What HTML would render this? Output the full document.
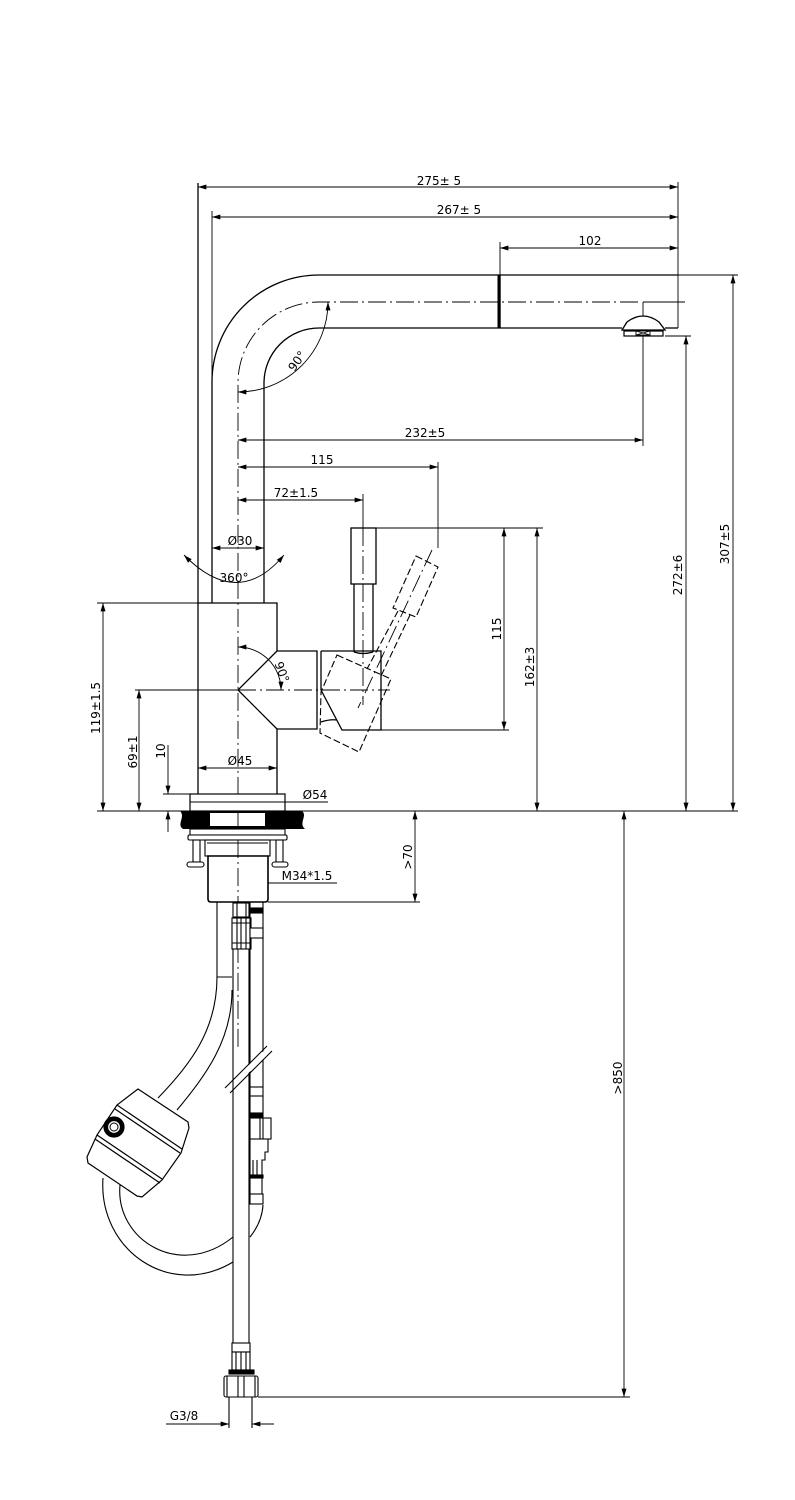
<!DOCTYPE html>
<html><head><meta charset="utf-8"><style>
html,body{margin:0;padding:0;background:#fff;}
svg{display:block;}
text{font-family:"DejaVu Sans","Liberation Sans",sans-serif;font-size:12px;fill:#000;stroke:none;}
</style></head><body>
<svg width="795" height="1500" viewBox="0 0 795 1500" xmlns="http://www.w3.org/2000/svg">
<defs>
<marker id="a" viewBox="0 0 10 6" refX="10" refY="3" markerWidth="9" markerHeight="5" markerUnits="userSpaceOnUse" orient="auto-start-reverse"><path d="M0,0 L10,3 L0,6 z" fill="#000"/></marker>
</defs>
<rect width="795" height="1500" fill="#fff"/>

<!-- ===== Dimension lines ===== -->
<g fill="none" stroke="#000" stroke-width="0.9">
<line x1="198" y1="187" x2="678" y2="187" marker-start="url(#a)" marker-end="url(#a)"/>
<line x1="212" y1="217" x2="678" y2="217" marker-start="url(#a)" marker-end="url(#a)"/>
<line x1="500" y1="248" x2="678" y2="248" marker-start="url(#a)" marker-end="url(#a)"/>
<line x1="238" y1="440" x2="643" y2="440" marker-start="url(#a)" marker-end="url(#a)"/>
<line x1="238" y1="467" x2="438" y2="467" marker-start="url(#a)" marker-end="url(#a)"/>
<line x1="238" y1="500" x2="363" y2="500" marker-start="url(#a)" marker-end="url(#a)"/>
<line x1="212" y1="548" x2="264" y2="548" marker-start="url(#a)" marker-end="url(#a)"/>
<line x1="198" y1="768" x2="277" y2="768" marker-start="url(#a)" marker-end="url(#a)"/>
<line x1="190" y1="802" x2="285" y2="802" marker-start="url(#a)" marker-end="url(#a)"/>
<line x1="285" y1="802" x2="328" y2="802"/>
<line x1="208" y1="883" x2="268" y2="883" marker-start="url(#a)" marker-end="url(#a)"/>
<line x1="268" y1="883" x2="337" y2="883"/>
<line x1="166" y1="1424" x2="229" y2="1424" marker-end="url(#a)"/>
<line x1="274" y1="1424" x2="252" y2="1424" marker-end="url(#a)"/>

<line x1="103" y1="603" x2="103" y2="811" marker-start="url(#a)" marker-end="url(#a)"/>
<line x1="139" y1="690" x2="139" y2="811" marker-start="url(#a)" marker-end="url(#a)"/>
<line x1="168" y1="745" x2="168" y2="794" marker-end="url(#a)"/>
<line x1="168" y1="832" x2="168" y2="811" marker-end="url(#a)"/>
<line x1="504" y1="528" x2="504" y2="730" marker-start="url(#a)" marker-end="url(#a)"/>
<line x1="537" y1="528" x2="537" y2="811" marker-start="url(#a)" marker-end="url(#a)"/>
<line x1="415" y1="811" x2="415" y2="902" marker-start="url(#a)" marker-end="url(#a)"/>
<line x1="624" y1="811" x2="624" y2="1397" marker-start="url(#a)" marker-end="url(#a)"/>
<line x1="686" y1="336" x2="686" y2="811" marker-start="url(#a)" marker-end="url(#a)"/>
<line x1="733" y1="275" x2="733" y2="811" marker-start="url(#a)" marker-end="url(#a)"/>

<!-- extension lines -->
<line x1="678" y1="182" x2="678" y2="328"/>
<line x1="212" y1="211" x2="212" y2="383"/>
<line x1="500" y1="242" x2="500" y2="275"/>
<line x1="643" y1="302" x2="643" y2="446"/>
<line x1="438" y1="462" x2="438" y2="548"/>
<line x1="363" y1="494" x2="363" y2="528"/>
<line x1="678" y1="275" x2="738" y2="275"/>
<line x1="665" y1="336" x2="691" y2="336"/>
<line x1="376" y1="528" x2="543" y2="528"/>
<line x1="342" y1="730" x2="509" y2="730"/>
<line x1="97" y1="603" x2="198" y2="603"/>
<line x1="135" y1="690" x2="238" y2="690"/>
<line x1="163" y1="794" x2="190" y2="794"/>
<line x1="97" y1="811" x2="738" y2="811"/>
<line x1="268" y1="902" x2="420" y2="902"/>
<line x1="258" y1="1397" x2="630" y2="1397"/>

<!-- angle arcs -->
<path d="M328 302 A90 90 0 0 1 238 392" marker-start="url(#a)" marker-end="url(#a)"/>
<path d="M184 555 Q238 610 284 555" marker-start="url(#a)" marker-end="url(#a)"/>
<path d="M238 647 A43 43 0 0 1 281 690" marker-start="url(#a)" marker-end="url(#a)"/>
</g>

<!-- ===== Centerlines ===== -->
<g fill="none" stroke="#000" stroke-width="0.9" stroke-dasharray="18 4 2 4">
<path d="M638 302 L319 302 A81 81 0 0 0 238 383 L238 1047"/>
<line x1="238" y1="690" x2="390" y2="690"/>
<line x1="363" y1="528" x2="363" y2="705"/>
<line x1="432" y1="550" x2="358" y2="708"/>
</g>
<line x1="643" y1="302" x2="685" y2="302" stroke="#000" stroke-width="0.9"/>

<!-- ===== Spout ===== -->
<g fill="none" stroke="#000" stroke-width="1.3">
<path d="M678 275 L319 275 A107 107 0 0 0 212 382 L212 603"/>
<path d="M622 328 L319 328 A55 55 0 0 0 264 383 L264 603"/>
<path d="M678 328 L665 328"/>
<path d="M622 330 L627 322 Q643 310 659 322 L665 330 L622 330 Z" fill="#fff"/>
</g>
<rect x="624" y="331" width="39" height="5" fill="#fff" stroke="#000" stroke-width="1.2"/>
<rect x="636" y="331" width="14" height="4" fill="#fff" stroke="#000" stroke-width="0.9"/>
<path d="M636 331 L650 335 M650 331 L636 335" stroke="#000" stroke-width="0.8"/>
<rect x="497.5" y="275" width="3.2" height="53" fill="#000"/>

<!-- ===== Body ===== -->
<g fill="none" stroke="#000" stroke-width="1.3">
<path d="M198 183 L198 794"/>
<path d="M198 603 L277 603 L277 651 L317 651 L317 729 L277 729 L277 794"/>
<path d="M277 651 L238 690 L277 729"/>
<line x1="321" y1="651" x2="321" y2="690"/>
<path d="M321 651 L381 651 L381 730 L342 730 L321 690"/>
<path d="M321 722 Q330 719 337 720"/>
<rect x="351" y="528" width="25" height="56"/>
<path d="M354 584 L354 652 M373 584 L373 652"/>
<path d="M354 652 Q363 655 373 652"/>
</g>
<!-- dashed rotated handle -->
<g fill="none" stroke="#000" stroke-width="1.1" stroke-dasharray="7 3">
<path d="M337 655 L391 679 L359 752 L320 733 L321 692 Z"/>
<path d="M416 556 L438 567 L416 617 L393 608 Z"/>
<path d="M398 611 L367 669 M410 615 L381 676"/>
</g>

<!-- ===== Base ===== -->
<rect x="190" y="794" width="95" height="17" fill="#fff" stroke="#000" stroke-width="1.2"/>
<line x1="190" y1="802" x2="285" y2="802" stroke="#000" stroke-width="0.9"/>
<path d="M180 811 L302 811 C308 816 298 823 305 829 L183 829 C176 824 186 817 180 811 Z" fill="#000"/>
<rect x="210" y="813" width="55" height="13" fill="#fff"/>
<line x1="238" y1="811" x2="238" y2="829" stroke="#000" stroke-width="0.9"/>
<g fill="#fff" stroke="#000" stroke-width="1.1">
<rect x="190" y="829" width="95" height="6"/>
<rect x="188" y="835" width="99" height="5" rx="1.5"/>
<rect x="193" y="840" width="7" height="22"/>
<rect x="276" y="840" width="7" height="22"/>
<rect x="187" y="862" width="17" height="5" rx="2.5"/>
<rect x="272" y="862" width="16" height="5" rx="2.5"/>
<rect x="205" y="840" width="65" height="16"/>
<line x1="207" y1="843" x2="268" y2="843"/>
<path d="M208 856 L268 856 L268 899 Q268 902 265 902 L211 902 Q208 902 208 899 Z" stroke-width="1.6"/>
</g>
<line x1="238" y1="840" x2="238" y2="902" stroke="#000" stroke-width="0.9" stroke-dasharray="18 4 2 4"/>

<!-- ===== Pipes & hose ===== -->
<g fill="none" stroke="#000" stroke-width="1.1">
<!-- hose top -->
<path d="M217 902 L217 977 L232 977"/>
<path d="M217 977 C217 1030 190 1065 158 1098"/>
<path d="M232 990 C232 1040 206 1075 177 1110"/>
<!-- front pipe -->
<rect x="233" y="903" width="16" height="14" fill="#fff"/>
<path d="M237 903 L237 917 M246 903 L246 917"/>
<rect x="232" y="918" width="19" height="31" fill="#fff"/>
<path d="M232 923 L251 923 M232 943 L251 943 M237 918 L237 949 M241 918 L241 949 M246 918 L246 949"/>
<path d="M233 949 L233 1343 M249 949 L249 1343"/>
<!-- right pipe -->
<path d="M250 902 L250 1204 M263 902 L263 1087"/>
<rect x="250" y="908" width="13" height="5" fill="#000"/>
<rect x="250" y="928" width="13" height="10" fill="#fff"/>
<rect x="250" y="1087" width="13" height="9" fill="#fff"/>
<path d="M263 1096 L263 1113"/>
<rect x="250" y="1113" width="13" height="4" fill="#000"/>
<rect x="250" y="1118" width="21" height="21" fill="#fff"/>
<path d="M260 1118 L260 1139 M263 1118 L263 1139"/>
<path d="M250 1139 L268 1139 L268 1152 L265 1152 L265 1160 L262 1160 L262 1175"/>
<path d="M253 1160 L253 1175 M257 1160 L257 1175"/>
<rect x="250" y="1175" width="13" height="3" fill="#000"/>
<path d="M262 1178 L262 1194"/>
<rect x="250" y="1194" width="13" height="10" fill="#fff"/>
<!-- hose loop -->
<path d="M103 1178 C98 1250 170 1300 233 1262"/>
<path d="M120 1185 C115 1240 180 1280 233 1237"/>
<path d="M250 1237 Q262 1222 263 1205"/>
</g>
<!-- break marks -->
<path d="M238 1075 L268 1047 L272 1051 L242 1079 Z" fill="#fff"/>
<path d="M225 1088 L267 1046 M230 1093 L272 1051" stroke="#000" stroke-width="1.1"/>

<!-- weight -->
<g stroke="#000" stroke-width="1.2">
<polygon points="138,1089 188,1122 189,1128 181,1153 162,1180 142,1197 137,1196 88,1163 87,1157 97,1135 117,1105" fill="#fff"/>
<path d="M117 1105 L182 1149 M115 1109 L180 1153 M97 1135 L162 1179 M95 1139 L160 1183" fill="none"/>
<circle cx="114" cy="1127" r="10" fill="#000"/>
<circle cx="114" cy="1127" r="6.5" fill="#fff"/>
<circle cx="114" cy="1127" r="4" fill="none" stroke-width="1"/>
</g>

<!-- bottom fitting -->
<g fill="#fff" stroke="#000" stroke-width="1.1">
<rect x="232" y="1343" width="18" height="9"/>
<rect x="232" y="1352" width="18" height="18"/>
<path d="M236 1352 L236 1370 M241 1352 L241 1370 M246 1352 L246 1370" fill="none"/>
<rect x="229" y="1370" width="25" height="4" fill="#000"/>
<rect x="224" y="1376" width="34" height="21" rx="2"/>
<path d="M227 1376 L227 1397 M238 1376 L238 1397 M244 1376 L244 1397 M255 1376 L255 1397" fill="none"/>
<path d="M229 1397 L229 1428 M252 1397 L252 1428" fill="none"/>
</g>

<!-- ===== Text ===== -->
<g text-anchor="middle">
<text x="439" y="185">275± 5</text>
<text x="459" y="214">267± 5</text>
<text x="590" y="245">102</text>
<text x="425" y="437">232±5</text>
<text x="322" y="464">115</text>
<text x="296" y="497">72±1.5</text>
<text x="240" y="545">Ø30</text>
<text x="234" y="582">360°</text>
<text x="240" y="765">Ø45</text>
<text x="315" y="799">Ø54</text>
<text x="307" y="880">M34*1.5</text>
<text x="184" y="1420">G3/8</text>
<text transform="translate(297,361) rotate(-55)" dy="0.35em">90°</text>
<text transform="translate(282,672) rotate(70)" dy="0.35em">90°</text>
<text transform="translate(408,857) rotate(-90)" dy="0.35em">&gt;70</text>
<text transform="translate(161,751) rotate(-90)" dy="0.35em">10</text>
<text transform="translate(133,752) rotate(-90)" dy="0.35em">69±1</text>
<text transform="translate(96,708) rotate(-90)" dy="0.35em">119±1.5</text>
<text transform="translate(497,629) rotate(-90)" dy="0.35em">115</text>
<text transform="translate(530,667) rotate(-90)" dy="0.35em">162±3</text>
<text transform="translate(678,575) rotate(-90)" dy="0.35em">272±6</text>
<text transform="translate(725,544) rotate(-90)" dy="0.35em">307±5</text>
<text transform="translate(618,1078) rotate(-90)" dy="0.35em">&gt;850</text>
</g>
</svg>
</body></html>
